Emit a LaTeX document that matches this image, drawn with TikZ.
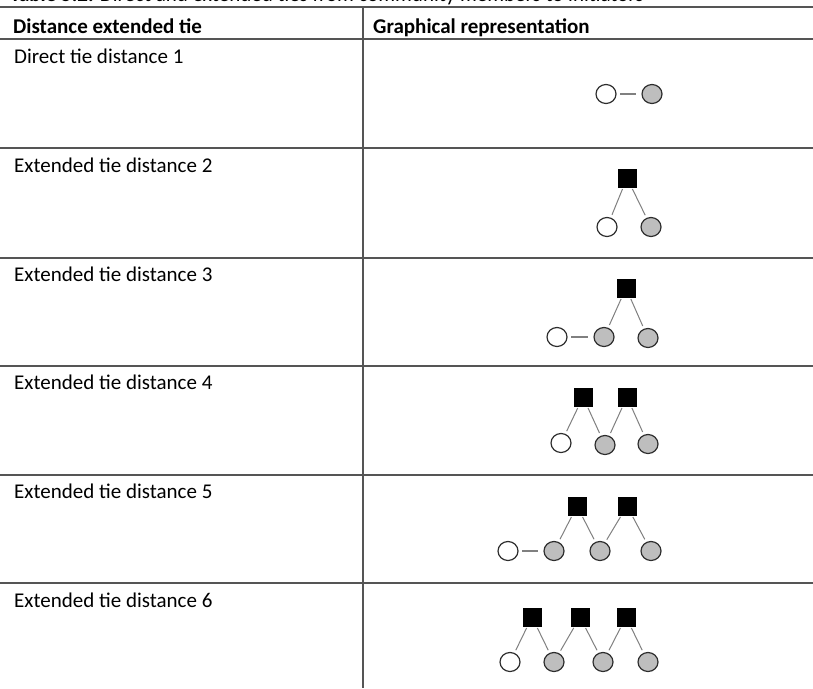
\documentclass[tikz,border=0pt]{standalone}
\usepackage{fontspec}
\setmainfont{Carlito}
\usetikzlibrary{shapes.geometric}
\definecolor{rulegray}{RGB}{85,85,85}
\definecolor{tiegray}{RGB}{128,128,128}
\definecolor{nodefill}{RGB}{190,190,190}
\definecolor{nodeline}{RGB}{45,45,45}
\tikzset{
  rule/.style={draw=rulegray, line width=1.5pt},
  celltext/.style={anchor=base west, inner sep=0pt, font=\fontsize{21}{25}\selectfont},
  headtext/.style={celltext, font=\fontsize{21}{25}\selectfont\bfseries},
  sqnode/.style={rectangle, fill=black, draw=black, line width=0.4pt, minimum size=18pt, inner sep=0pt},
  whitenode/.style={ellipse, fill=white, draw=nodeline, line width=1.2pt, minimum width=20pt, minimum height=19pt, inner sep=0pt},
  graynode/.style={whitenode, fill=nodefill},
  tieline/.style={draw=tiegray, line width=1pt, shorten <=2pt, shorten >=3pt},
  hline/.style={draw=tiegray, line width=1.2pt, shorten <=3.5pt, shorten >=5.5pt}
}
\begin{document}
\begin{tikzpicture}[x=1pt,y=-1pt]
\useasboundingbox (0,0) rectangle (813,688);
\clip (0,0) rectangle (813,688);
\fill[white] (0,0) rectangle (813,688);
% caption (cut off at top)
\node[celltext] (cap) at (10,1.5) {\textbf{Table 5.2.} Direct and extended ties from community members to initiators};
% rules
\coordinate (tl) at (0,7);   \coordinate (tr) at (813,7);
\coordinate (h1l) at (0,39); \coordinate (h1r) at (813,39);
\coordinate (h2l) at (0,148); \coordinate (h2r) at (813,148);
\coordinate (h3l) at (0,258); \coordinate (h3r) at (813,258);
\coordinate (h4l) at (0,366); \coordinate (h4r) at (813,366);
\coordinate (h5l) at (0,475); \coordinate (h5r) at (813,475);
\coordinate (h6l) at (0,583); \coordinate (h6r) at (813,583);
\coordinate (vt) at (363,7); \coordinate (vb) at (363,688);
\draw[rule] (tl) -- (tr);
\draw[rule] (h1l) -- (h1r);
\draw[rule] (h2l) -- (h2r);
\draw[rule] (h3l) -- (h3r);
\draw[rule] (h4l) -- (h4r);
\draw[rule] (h5l) -- (h5r);
\draw[rule] (h6l) -- (h6r);
\draw[rule] (vt) -- (vb);
% header
\node[headtext] (hd1) at (13,33) {Distance extended tie};
\node[headtext] (hd2) at (373,33) {Graphical representation};
% row labels
\node[celltext] (t1) at (14,63) {Direct tie distance 1};
\node[celltext] (t2) at (14,172) {Extended tie distance 2};
\node[celltext] (t3) at (14,281) {Extended tie distance 3};
\node[celltext] (t4) at (14,389) {Extended tie distance 4};
\node[celltext] (t5) at (14,498) {Extended tie distance 5};
\node[celltext] (t6) at (14,607) {Extended tie distance 6};
% row 1
\node[whitenode] (a1) at (606,94) {};
\node[graynode] (a2) at (652,94) {};
\draw[hline] (a1) -- (a2);
% row 2
\node[sqnode] (b0) at (627,178) {};
\node[whitenode] (b1) at (607,227) {};
\node[graynode] (b2) at (651,227) {};
\draw[tieline] (b0) -- (b1);
\draw[tieline] (b0) -- (b2);
% row 3
\node[sqnode] (c0) at (626,288) {};
\node[whitenode] (c1) at (557,337) {};
\node[graynode] (c2) at (604,337) {};
\node[graynode] (c3) at (648,338) {};
\draw[hline] (c1) -- (c2);
\draw[tieline] (c0) -- (c2);
\draw[tieline] (c0) -- (c3);
% row 4
\node[sqnode] (d0) at (583,397) {};
\node[sqnode] (d5) at (627,397) {};
\node[whitenode] (d1) at (561,443) {};
\node[graynode] (d2) at (605,445) {};
\node[graynode] (d3) at (648,444) {};
\draw[tieline] (d0) -- (d1);
\draw[tieline] (d0) -- (d2);
\draw[tieline] (d5) -- (d2);
\draw[tieline] (d5) -- (d3);
% row 5
\node[sqnode] (e0) at (577,506) {};
\node[sqnode] (e5) at (627,506) {};
\node[whitenode] (e1) at (508,551) {};
\node[graynode] (e2) at (554,551) {};
\node[graynode] (e3) at (600,551) {};
\node[graynode] (e4) at (651,551) {};
\draw[hline] (e1) -- (e2);
\draw[tieline] (e0) -- (e2);
\draw[tieline] (e0) -- (e3);
\draw[tieline] (e5) -- (e3);
\draw[tieline] (e5) -- (e4);
% row 6
\node[sqnode] (f0) at (532,617) {};
\node[sqnode] (f5) at (580,617) {};
\node[sqnode] (f6) at (626,617) {};
\node[whitenode] (f1) at (510,662) {};
\node[graynode] (f2) at (554,662) {};
\node[graynode] (f3) at (603,662) {};
\node[graynode] (f4) at (648,662) {};
\draw[tieline] (f0) -- (f1);
\draw[tieline] (f0) -- (f2);
\draw[tieline] (f5) -- (f2);
\draw[tieline] (f5) -- (f3);
\draw[tieline] (f6) -- (f3);
\draw[tieline] (f6) -- (f4);
\end{tikzpicture}
\end{document}
